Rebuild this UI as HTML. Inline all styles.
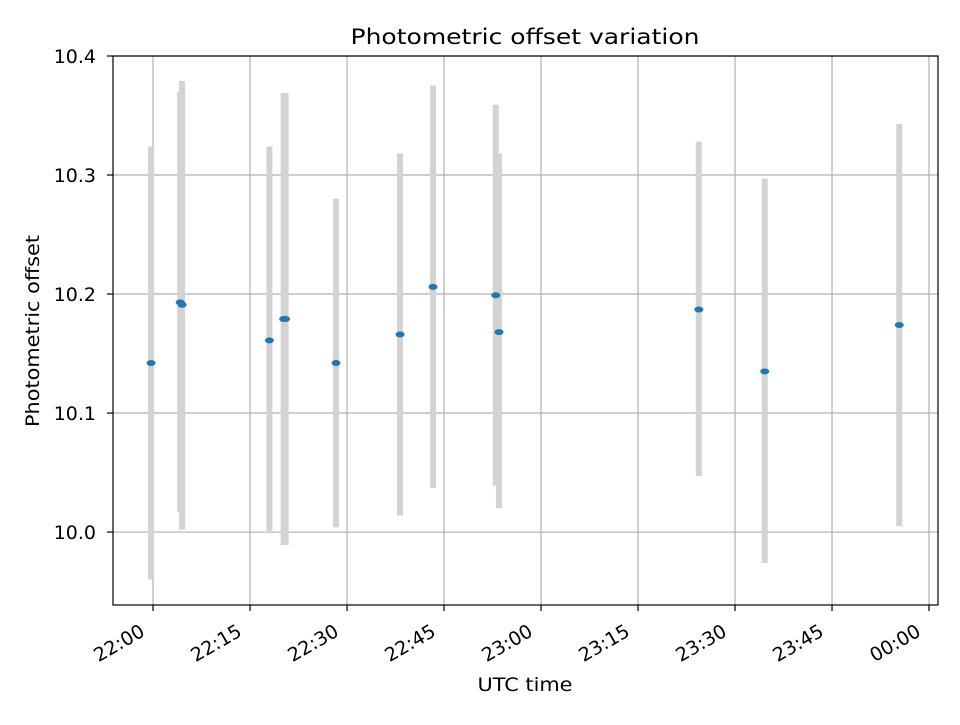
<!DOCTYPE html>
<html><head><meta charset="utf-8"><style>
body{margin:0;background:#fff}
svg text{font-family:"DejaVu Sans","Liberation Sans",sans-serif;fill:#000}
</style></head><body>
<svg id="chart" width="960" height="720" viewBox="0 0 960 720" xmlns="http://www.w3.org/2000/svg">
<rect width="960" height="720" fill="#fff"/>
<g id="grid"></g>
<g id="bars"></g>
<g id="pts"></g>
<rect x="113" y="56" width="825" height="549" fill="none" stroke="#000" stroke-width="1.2"/>
<g id="axes"></g>
<text x="525" y="44" font-size="21" text-anchor="middle" textLength="349" lengthAdjust="spacingAndGlyphs">Photometric offset variation</text>
<text x="525" y="691" font-size="19" text-anchor="middle" textLength="95" lengthAdjust="spacingAndGlyphs">UTC time</text>
<text transform="translate(39,331) rotate(-90)" font-size="19" text-anchor="middle" textLength="192" lengthAdjust="spacingAndGlyphs">Photometric offset</text>
</svg>
<script>
// minutes after 22:00
const times=[-0.3,4.2,4.5,18.0,20.2,20.5,28.3,38.2,43.3,53.0,53.5,84.4,94.6,115.4];
const values=[10.142,10.193,10.191,10.161,10.179,10.179,10.142,10.166,10.206,10.199,10.168,10.187,10.135,10.174];
const lows=[9.960,10.017,10.002,10.000,9.989,9.989,10.004,10.014,10.037,10.039,10.020,10.047,9.974,10.005];
const highs=[10.324,10.370,10.379,10.324,10.369,10.369,10.280,10.318,10.375,10.359,10.318,10.328,10.297,10.343];
const xTicks=[0,15,30,45,60,75,90,105,120];
const xTickLabels=["22:00","22:15","22:30","22:45","23:00","23:15","23:30","23:45","00:00"];
const yTicks=[10.0,10.1,10.2,10.3,10.4];
const yTickLabels=["10.0","10.1","10.2","10.3","10.4"];

const X0=113,X1=938,Y0=56,Y1=605;
const xmin=-6.19,xmax=121.39,ymin=9.9387,ymax=10.4;
const xs=t=>X0+(t-xmin)/(xmax-xmin)*(X1-X0);
const ys=v=>Y1-(v-ymin)/(ymax-ymin)*(Y1-Y0);
const NS="http://www.w3.org/2000/svg";
function mk(tag,attrs,parent){const e=document.createElementNS(NS,tag);for(const k in attrs)e.setAttribute(k,attrs[k]);parent.appendChild(e);return e;}
const grid=document.getElementById('grid'),axes=document.getElementById('axes');
xTicks.forEach((t,i)=>{
  const x=xs(t);
  const g=mk('line',{x1:x,x2:x,y1:Y0,y2:Y1,stroke:'#b0b0b0','stroke-width':1.2},grid);
  
  
  const tk=mk('line',{x1:x,x2:x,y1:Y1,y2:Y1+6,stroke:'#000','stroke-width':1.2},axes);
  
  
  const tx=mk('text',{'font-size':19,'text-anchor':'end',transform:`translate(${x-7},${Y1+30}) rotate(-30)`},axes);
  tx.textContent=xTickLabels[i];
  
  
});
yTicks.forEach((v,i)=>{
  const y=ys(v);
  const g=mk('line',{x1:X0,x2:X1,y1:y,y2:y,stroke:'#b0b0b0','stroke-width':1.2},grid);
  
  
  const tk=mk('line',{x1:X0-6,x2:X0,y1:y,y2:y,stroke:'#000','stroke-width':1.2},axes);
  
  
  const tx=mk('text',{x:X0-17,y:y+7,'font-size':19,'text-anchor':'end'},axes);
  tx.textContent=yTickLabels[i];
  
  
});
const bars=document.getElementById('bars'),pts=document.getElementById('pts');
times.forEach((t,i)=>{
  const x=xs(t);
  const b=mk('line',{x1:x,x2:x,y1:ys(highs[i]),y2:ys(lows[i]),stroke:'#d3d3d3','stroke-width':6},bars);
  
  
});
times.forEach((t,i)=>{
  const p=mk('ellipse',{cx:xs(t),cy:ys(values[i]),rx:4.5,ry:3,fill:'#1f77b4'},pts);
  
  
});
</script>
</body></html>
